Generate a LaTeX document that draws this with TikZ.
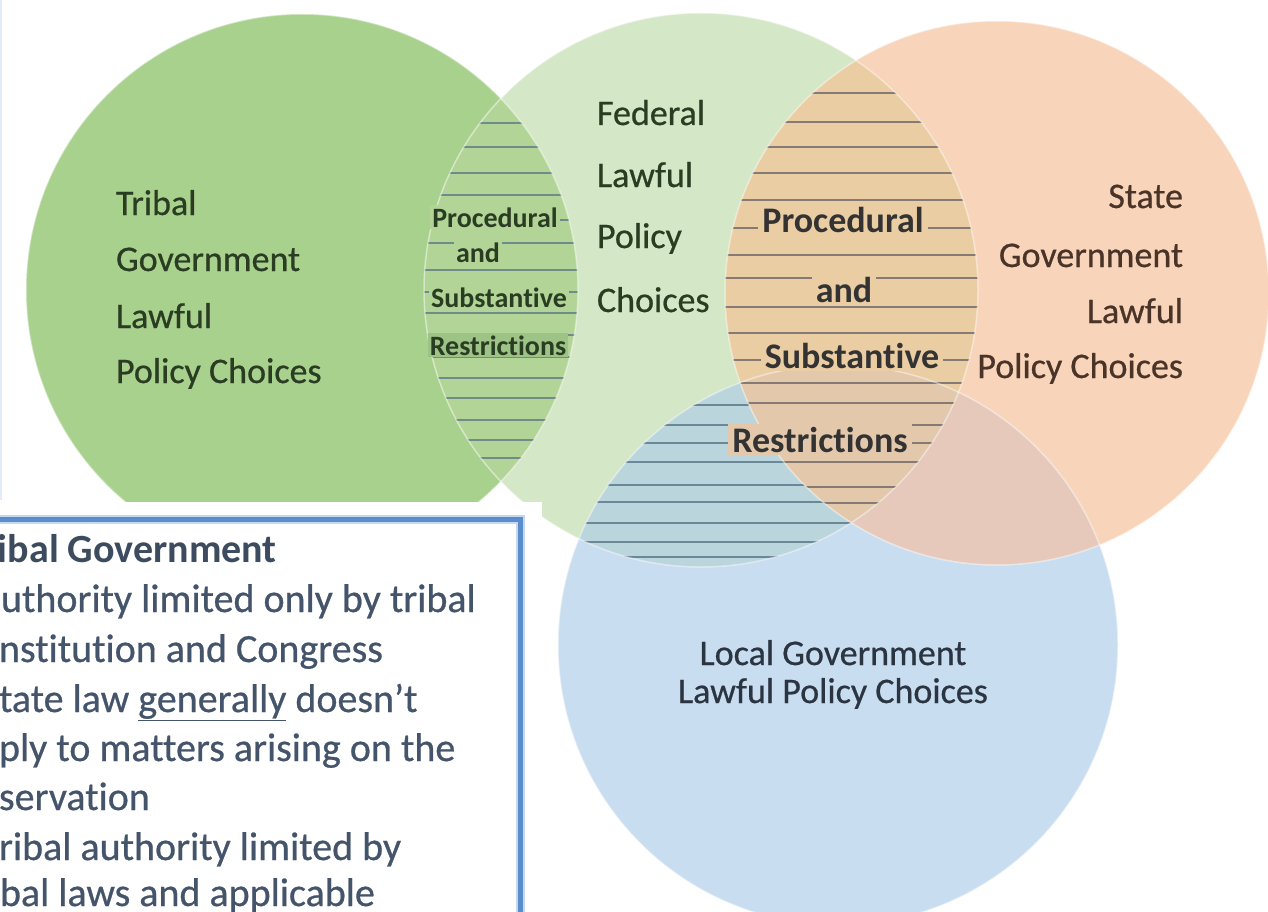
\documentclass[tikz,border=0pt]{standalone}
\usepackage{fontspec}
\setmainfont{Carlito}[Ligatures=NoCommon]
\newfontfamily\heavyfont{Carlito}[Ligatures=NoCommon, FakeBold=0.6]
\definecolor{fillG}{HTML}{A9D18E}
\definecolor{fillL}{HTML}{D4E7C6}
\definecolor{fillO}{HTML}{F8D4BA}
\definecolor{fillB}{HTML}{C9DDF0}
\definecolor{fillGL}{HTML}{B2D597}
\definecolor{fillLO}{HTML}{EBCDA3}
\definecolor{fillOB}{HTML}{E6C9BA}
\definecolor{fillLB}{HTML}{BBD5DC}
\definecolor{fillLOB}{HTML}{E3C8AC}
\definecolor{fillRB}{HTML}{9DC486}
\definecolor{txtG}{HTML}{2A3D22}
\definecolor{txtO}{HTML}{4A3428}
\definecolor{txtB}{HTML}{2B3542}
\definecolor{txtBox}{HTML}{44546A}
\definecolor{hatchGc}{HTML}{6F8C8A}
\definecolor{hatchOc}{HTML}{857B74}
\definecolor{hatchBc}{HTML}{6C8797}
\definecolor{borderBlue}{HTML}{5B8DCB}
\definecolor{glowBlue}{HTML}{C4D8F0}
\definecolor{edgeBlue}{HTML}{E2ECF8}
\begin{document}
\begin{tikzpicture}[x=1pt,y=-1pt,
  lbl/.style={inner sep=0pt, outer sep=0pt, font=\heavyfont\fontsize{36}{43}\selectfont},
  lensbig/.style={inner xsep=4pt, inner ysep=3pt, outer sep=0pt, font=\bfseries\fontsize{36}{43}\selectfont, text=black!80, fill=fillLO},
  lenssmall/.style={inner xsep=2pt, inner ysep=2pt, outer sep=0pt, font=\bfseries\fontsize{28}{33}\selectfont, text=txtG, fill=fillGL},
  boxline/.style={inner sep=0pt, outer sep=0pt, anchor=base west, text=txtBox, font=\heavyfont\fontsize{40}{49}\selectfont},
  hatchG/.style={draw=hatchGc, line width=2pt},
  hatchO/.style={draw=hatchOc, line width=2pt},
  hatchB/.style={draw=hatchBc, line width=2pt},
  rim/.style={draw=white, opacity=0.45, line width=1.5pt}
]
\useasboundingbox (0,0) rectangle (1268,912);
\fill[white] (0,0) rectangle (1268,912);

\coordinate (cG) at (302,290);
\coordinate (cL) at (701,290);
\coordinate (cO) at (997,293);
\coordinate (cB) at (838,645);

% base circles
\fill[fillG] (cG) circle[radius=276pt];
\fill[fillL] (cL) circle[radius=277pt];
\fill[fillO] (cO) circle[radius=272pt];
\fill[fillB] (cB) circle[radius=280pt];

% overlaps
\begin{scope}\clip (cG) circle[radius=276pt]; \fill[fillGL] (cL) circle[radius=277pt];\end{scope}
\begin{scope}\clip (cL) circle[radius=277pt]; \fill[fillLO] (cO) circle[radius=272pt];\end{scope}
\begin{scope}\clip (cO) circle[radius=272pt]; \fill[fillOB] (cB) circle[radius=280pt];\end{scope}
\begin{scope}\clip (cL) circle[radius=277pt]; \fill[fillLB] (cB) circle[radius=280pt];\end{scope}

% hatch in light green / blue
\begin{scope}
  \clip (cL) circle[radius=277pt]; \clip (cB) circle[radius=280pt];
  \foreach \yy in {405,425,443,462,485,502,523,542,557}
    \draw[hatchB] (540,\yy) -- (900,\yy);
\end{scope}
% triple overlap
\begin{scope}
  \clip (cL) circle[radius=277pt]; \clip (cO) circle[radius=272pt];
  \fill[fillLOB] (cB) circle[radius=280pt];
\end{scope}
% hatch in light green / orange
\begin{scope}
  \clip (cL) circle[radius=277pt]; \clip (cO) circle[radius=272pt];
  \foreach \yy in {93,122,147,173,200,228,255,278,307,333,360,383,403,425,443,462,487,503}
    \draw[hatchO] (700,\yy) -- (1000,\yy);
\end{scope}
% hatch in green / light green
\begin{scope}
  \clip (cG) circle[radius=276pt]; \clip (cL) circle[radius=277pt];
  \foreach \yy in {123,147,173,195,220,243,270,292,313,335,357,378,398,420,440,458}
    \draw[hatchG] (400,\yy) -- (600,\yy);
\end{scope}

% rims
\draw[rim] (cG) circle[radius=276pt];
\draw[rim] (cL) circle[radius=277pt];
\draw[rim] (cO) circle[radius=272pt];
\draw[rim] (cB) circle[radius=280pt];

% Tribal text
\node[lbl, text=txtG, anchor=base west] (tr1) at (116,215) {Tribal};
\node[lbl, text=txtG, anchor=base west] (tr2) at (116,271) {Government};
\node[lbl, text=txtG, anchor=base west] (tr3) at (116,328) {Lawful};
\node[lbl, text=txtG, anchor=base west] (tr4) at (116,383) {Policy Choices};

% Federal text
\node[lbl, text=txtG, anchor=base west] (fe1) at (597,125) {Federal};
\node[lbl, text=txtG, anchor=base west] (fe2) at (597,187) {Lawful};
\node[lbl, text=txtG, anchor=base west] (fe3) at (597,248) {Policy};
\node[lbl, text=txtG, anchor=base west] (fe4) at (597,312) {Choices};

% State text
\node[lbl, text=txtO, anchor=base east] (st1) at (1183,208) {State};
\node[lbl, text=txtO, anchor=base east] (st2) at (1183,267) {Government};
\node[lbl, text=txtO, anchor=base east] (st3) at (1183,323) {Lawful};
\node[lbl, text=txtO, anchor=base east] (st4) at (1183,378) {Policy Choices};

% Local text
\node[lbl, text=txtB, anchor=base] (lo1) at (833,665) {Local Government};
\node[lbl, text=txtB, anchor=base] (lo2) at (833,703) {Lawful Policy Choices};

% big lens text
\node[lensbig, anchor=base] (bl1) at (843,233) {Procedural};
\node[lensbig, anchor=base] (bl2) at (844,302) {and};
\node[lensbig, anchor=base] (bl3) at (852,368) {Substantive};
\node[lensbig, anchor=base, fill=fillLOB] (bl4) at (820,452) {Restrictions};

% small lens text
\node[lenssmall, anchor=base] (sl1) at (495,227) {Procedural};
\node[lenssmall, anchor=base] (sl2) at (478,262) {and};
\node[lenssmall, anchor=base] (sl3) at (499,307) {Substantive};
\node[lenssmall, anchor=base, fill=fillRB] (sl4) at (498,355) {Restrictions};

% text box
\fill[white] (-5,502) rectangle (542,917);
\coordinate (bxTL) at (-5,519);
\coordinate (bxTR) at (520,519);
\coordinate (bxBR) at (520,917);
\draw[glowBlue, line width=9pt] (bxTL) -- (bxTR) -- (bxBR);
\draw[borderBlue, line width=5pt] (bxTL) -- (bxTR) -- (bxBR);

\node[boxline, font=\bfseries\fontsize{40}{49}\selectfont, text=txtBox!90!black] (bx1) at (-2,562) {ibal Government};
\node[boxline] (bx2) at (1,612) {uthority limited only by tribal};
\node[boxline] (bx3) at (-1,662) {nstitution and Congress};
\node[boxline] (bx4) at (-1,712) {tate law \underline{generally} doesn’t};
\node[boxline] (bx5) at (-1,761) {ply to matters arising on the};
\node[boxline] (bx6) at (-1,810) {servation};
\node[boxline] (bx7) at (-1,860) {ribal authority limited by};
\node[boxline] (bx8) at (0,906) {bal laws and applicable};

% faint left edge line
\coordinate (ltop) at (1,0);
\coordinate (lbot) at (1,500);
\draw[edgeBlue, line width=2pt] (ltop) -- (lbot);
\end{tikzpicture}
\end{document}
